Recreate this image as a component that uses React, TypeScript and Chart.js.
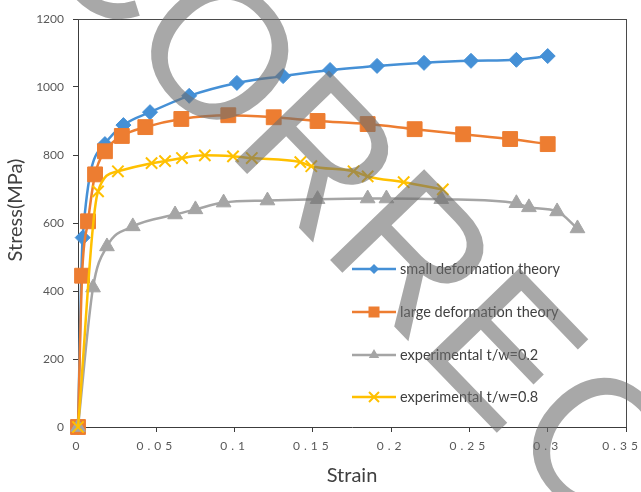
import React, { useEffect, useRef } from 'react';
import { Chart, registerables } from 'chart.js';

Chart.register(...registerables);

// ---------- data ----------
const seriesNames = [
  'small deformation theory',
  'large deformation theory',
  'experimental t/w=0.2',
  'experimental t/w=0.8',
];

const strainSmall = [0, 0.003, 0.0172, 0.029, 0.046, 0.071, 0.1015, 0.131, 0.161, 0.191, 0.221, 0.251, 0.28, 0.3];
const stressSmall = [0, 557, 832, 888, 926, 974, 1012, 1032, 1050, 1062, 1071, 1077, 1080, 1091];

const strainLarge = [0, 0.0026, 0.0064, 0.0109, 0.0172, 0.028, 0.043, 0.066, 0.096, 0.125, 0.153, 0.185, 0.215, 0.246, 0.276, 0.3];
const stressLarge = [0, 445, 605, 743, 811, 856, 882, 906, 917, 911, 900, 891, 876, 861, 847, 832];

const strainT02 = [0, 0.0096, 0.0185, 0.035, 0.062, 0.075, 0.093, 0.121, 0.153, 0.185, 0.197, 0.232, 0.28, 0.288, 0.306, 0.319];
const stressT02 = [0, 410, 531, 590, 625, 640, 660, 666, 670, 672, 672, 670, 658, 646, 634, 584];

const strainT08 = [0, 0.0128, 0.0255, 0.047, 0.0556, 0.0664, 0.081, 0.099, 0.111, 0.142, 0.149, 0.176, 0.185, 0.208, 0.233];
const stressT08 = [0, 693, 752, 776, 782, 791, 799, 796, 791, 779, 767, 752, 737, 720, 699];

const xTickValues = [0, 0.05, 0.1, 0.15, 0.2, 0.25, 0.3, 0.35];
const yTickValues = [0, 200, 400, 600, 800, 1000, 1200];
const xAxisTitle = 'Strain';
const yAxisTitle = 'Stress(MPa)';
const watermarkText = 'CORRECT';

// ---------- styles ----------
const colors = ['#4590D6', '#ED7D31', '#A5A5A5', '#FFC000'];
const pointStyles = ['rectRot', 'rect', 'triangle', 'crossRot'];
const pointRadii = [7.5, 10.5, 8.5, 8];
const legendRadii = [5, 5.5, 6, 5];
const FONT = 'Lato';
const AXIS_COLOR = '#3c3c3c';
const FRAME_COLOR = '#4a4a4a';
const TEXT_COLOR = '#404040';
const X_LETTER_SPACING = 4;
const LAST_X_LABEL_SHIFT = -4;

const toPoints = (xs: number[], ys: number[]) => xs.map((x, i) => ({ x, y: ys[i] }));

function drawMarker(ctx: CanvasRenderingContext2D, style: string, x: number, y: number, r: number, color: string) {
  ctx.save();
  ctx.fillStyle = color;
  ctx.strokeStyle = color;
  ctx.beginPath();
  if (style === 'rectRot') {
    ctx.moveTo(x, y - r);
    ctx.lineTo(x + r, y);
    ctx.lineTo(x, y + r);
    ctx.lineTo(x - r, y);
    ctx.closePath();
    ctx.fill();
  } else if (style === 'rect') {
    ctx.rect(x - r, y - r, 2 * r, 2 * r);
    ctx.fill();
  } else if (style === 'triangle') {
    ctx.moveTo(x, y - r);
    ctx.lineTo(x + r * 0.866, y + r / 2);
    ctx.lineTo(x - r * 0.866, y + r / 2);
    ctx.closePath();
    ctx.fill();
  } else {
    ctx.lineWidth = 2;
    ctx.moveTo(x - r, y - r);
    ctx.lineTo(x + r, y + r);
    ctx.moveTo(x + r, y - r);
    ctx.lineTo(x - r, y + r);
    ctx.stroke();
  }
  ctx.restore();
}

const decorPlugin = {
  id: 'decor',
  beforeDraw(chart: any) {
    const s: any = chart.scales.x;
    if (s && !s.__spaced) {
      const orig = s.drawLabels;
      s.drawLabels = function (area: any) {
        const ctx = this.ctx;
        const items = this.getLabelItems(area);
        const last = items[items.length - 1];
        if (last && !last.__shifted) {
          last.options.translation = [last.options.translation[0] + LAST_X_LABEL_SHIFT, last.options.translation[1]];
          last.__shifted = true;
        }
        ctx.save();
        (ctx as any).letterSpacing = X_LETTER_SPACING + 'px';
        orig.call(this, area);
        ctx.restore();
      };
      s.__spaced = true;
    }
  },
  afterDraw(chart: any) {
    const ctx: CanvasRenderingContext2D = chart.ctx;
    const a = chart.chartArea;

    // top and right frame of the plot area
    ctx.save();
    ctx.fillStyle = FRAME_COLOR;
    ctx.fillRect(Math.round(a.left), Math.round(a.top), Math.round(a.right - a.left) + 1, 1);
    ctx.fillRect(Math.round(a.right), Math.round(a.top), 1, Math.round(a.bottom - a.top));
    ctx.restore();

    // y axis title
    ctx.save();
    ctx.translate(16, 210);
    ctx.rotate(-Math.PI / 2);
    ctx.font = `20px ${FONT}`;
    ctx.fillStyle = TEXT_COLOR;
    ctx.textAlign = 'center';
    ctx.textBaseline = 'middle';
    ctx.fillText(yAxisTitle, 0, 0);
    ctx.restore();

    // legend inside the plot area
    const lx0 = 352;
    const lx1 = 396;
    const rows = [269, 312, 355, 397];
    ctx.save();
    ctx.font = `14.5px ${FONT}`;
    ctx.textBaseline = 'middle';
    ctx.textAlign = 'left';
    seriesNames.forEach((name, i) => {
      const y = rows[i];
      ctx.strokeStyle = colors[i];
      ctx.lineWidth = 2.5;
      ctx.beginPath();
      ctx.moveTo(lx0, y);
      ctx.lineTo(lx1, y);
      ctx.stroke();
      drawMarker(ctx, pointStyles[i], (lx0 + lx1) / 2, y, legendRadii[i], colors[i]);
      ctx.fillStyle = TEXT_COLOR;
      ctx.fillText(name, 400, y);
    });
    ctx.restore();

    // watermark stamp
    ctx.save();
    const ang = (46 * Math.PI) / 180;
    ctx.translate(26, -55);
    ctx.rotate(ang);
    ctx.font = `190px "Liberation Sans"`;
    ctx.fillStyle = 'rgba(110,110,110,0.6)';
    ctx.textAlign = 'left';
    ctx.textBaseline = 'alphabetic';
    ctx.fillText(watermarkText, 0, 0);
    ctx.restore();
  },
};

export default function App() {
  const ref = useRef<HTMLCanvasElement>(null);
  useEffect(() => {
    if (!ref.current) return;
    Chart.defaults.font.family = FONT;
    const xs = [strainSmall, strainLarge, strainT02, strainT08];
    const ys = [stressSmall, stressLarge, stressT02, stressT08];
    const chart = new Chart(ref.current, {
      type: 'line',
      data: {
        datasets: seriesNames.map((name, i) => ({
          label: name,
          data: toPoints(xs[i], ys[i]),
          borderColor: colors[i],
          backgroundColor: colors[i],
          borderWidth: 2.5,
          pointStyle: pointStyles[i] as any,
          pointRadius: pointRadii[i],
          pointHoverRadius: pointRadii[i],
          pointBorderWidth: i === 3 ? 2 : 1,
          pointBorderColor: colors[i],
          pointBackgroundColor: colors[i],
          cubicInterpolationMode: 'monotone' as const,
          fill: false,
          clip: false as any,
          order: 3 - i,
        })),
      },
      options: {
        animation: false,
        responsive: true,
        maintainAspectRatio: false,
        layout: { padding: { top: 19, right: 15, left: 0, bottom: 0 } },
        plugins: { legend: { display: false }, tooltip: { enabled: false } },
        events: [],
        scales: {
          x: {
            type: 'linear',
            position: 'bottom',
            min: 0,
            max: 0.35,
            afterBuildTicks: (s: any) => {
              s.ticks = xTickValues.map((v) => ({ value: v }));
            },
            afterFit: (s: any) => {
              s.height = 65;
              s.paddingLeft = 0;
              s.paddingRight = 0;
            },
            ticks: {
              callback: (v: any) => String(v),
              font: { size: 12, family: FONT },
              color: '#595959',
              padding: 7,
              maxRotation: 0,
              autoSkip: false,
            },
            grid: { display: true, drawOnChartArea: false, drawTicks: true, tickLength: 5, color: AXIS_COLOR },
            border: { display: true, color: AXIS_COLOR, width: 1 },
            title: {
              display: true,
              text: xAxisTitle,
              font: { size: 20, family: FONT },
              color: TEXT_COLOR,
              padding: { top: 0, bottom: 4 },
            },
          },
          y: {
            type: 'linear',
            position: 'left',
            min: 0,
            max: 1200,
            afterBuildTicks: (s: any) => {
              s.ticks = yTickValues.map((v) => ({ value: v }));
            },
            afterFit: (s: any) => {
              s.width = 78;
            },
            ticks: {
              callback: (v: any) => String(v),
              font: { size: 12, family: FONT },
              color: '#595959',
              padding: 9,
              autoSkip: false,
            },
            grid: { display: true, drawOnChartArea: false, drawTicks: true, tickLength: 5, color: AXIS_COLOR },
            border: { display: true, color: AXIS_COLOR, width: 1 },
          },
        },
      },
      plugins: [decorPlugin],
    });
    return () => chart.destroy();
  }, []);
  return (
    <div style={{ position: 'fixed', left: 0, top: 0, width: 641, height: 492, background: '#ffffff' }}>
      <canvas ref={ref} />
    </div>
  );
}
